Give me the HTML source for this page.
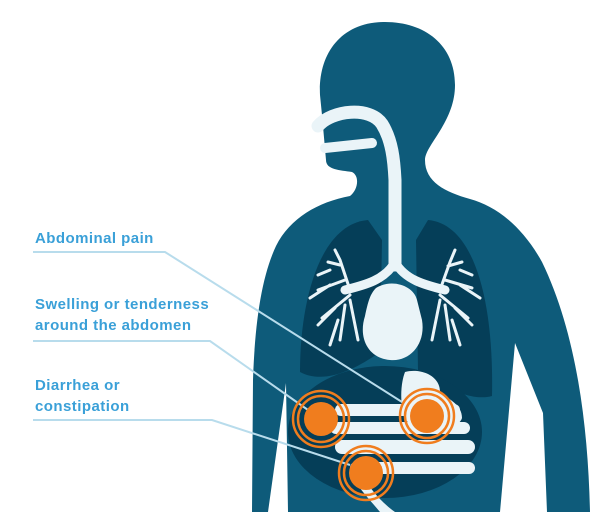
<!DOCTYPE html>
<html><head><style>
html,body{margin:0;padding:0;background:#fff;}
svg{display:block;}
text{font-family:"Liberation Sans",sans-serif;font-weight:bold;font-size:15px;letter-spacing:0.45px;fill:#3aa0d8;}
</style></head><body>
<svg width="606" height="512" viewBox="0 0 606 512" xmlns="http://www.w3.org/2000/svg">
<path fill="#0e5b7a" d="M385,22 C340,22 318,55 320,95 L322,115 L326,160 C326,170 340,170 352,172 C360,176 358,190 350,196 C318,202 290,218 276,246 C262,276 255,320 253,380 L252,512 L268,512 L286,383 L288,512 L500,512 L515,343 L543,413 L547,512 L590,512 C588,420 575,330 542,262 C522,226 496,206 470,199 C445,192 425,182 425,160 C425,145 455,122 455,85 C455,45 425,22 385,22 Z"/>
<path fill="#053e58" d="M368,220 C320,224 300,300 300,372 C322,384 352,372 380,352 L382,240 Z"/>
<path fill="#053e58" d="M428,220 C474,224 494,300 492,396 C470,402 442,386 418,370 L416,240 Z"/>
<ellipse cx="385" cy="432" rx="97" ry="66" fill="#053e58"/>
<g fill="none" stroke="#eaf4f8" stroke-linecap="round">
<path d="M318,126 C332,110 370,106 382,124 C392,140 394,160 395,180 L395,265" stroke-width="13"/>
<path d="M325,148 L372,143" stroke-width="10"/>
<path d="M395,262 C385,280 365,285 345,290" stroke-width="9"/>
<path d="M395,262 C405,280 425,285 445,290" stroke-width="9"/>
</g>
<g fill="none" stroke="#eaf4f8" stroke-width="3" stroke-linecap="round">
<path d="M350,290 L340,260 L335,250 M340,265 L328,262 M345,280 L318,290 M330,285 L310,298 M350,295 L322,318 M335,308 L318,325 M345,305 L340,340 M338,320 L330,345 M350,300 L358,340 M330,270 L318,275"/>
<path d="M440,290 L450,262 L455,250 M448,266 L462,262 M445,280 L472,288 M460,285 L480,298 M440,295 L468,318 M455,308 L472,325 M445,305 L450,340 M452,320 L460,345 M440,300 L432,340 M460,270 L472,275"/>
</g>
<path fill="#eaf4f8" d="M376,288 C392,278 414,286 417,300 L422,320 C426,344 410,362 390,360 C368,358 358,338 365,316 C368,302 370,294 376,288 Z"/>
<g fill="#eaf4f8">
<path d="M405,372 C420,368 440,375 440,392 C450,400 462,405 462,418 C458,432 420,432 405,420 C400,405 400,385 405,372 Z"/>
<rect x="335" y="404" width="125" height="12" rx="6"/>
<rect x="330" y="422" width="140" height="12" rx="6"/>
<rect x="335" y="440" width="140" height="14" rx="7"/>
<rect x="350" y="462" width="125" height="12" rx="6"/>
<path d="M365,480 C375,495 385,505 395,512 L380,512 C370,500 360,490 355,480 Z"/>
</g>
<g fill="none" stroke="#b8dcec" stroke-width="2">
<path d="M33,252 L165,252 L402,402"/>
<path d="M33,341 L210,341 L308,410"/>
<path d="M33,420 L212,420 L350,465"/>
</g>
<g>
<circle cx="321" cy="419" r="28" fill="none" stroke="#f07d1e" stroke-width="2.5"/>
<circle cx="321" cy="419" r="23" fill="none" stroke="#f07d1e" stroke-width="2.5"/>
<circle cx="321" cy="419" r="17" fill="#f07d1e"/>
<circle cx="427" cy="416" r="27" fill="none" stroke="#f07d1e" stroke-width="2.5"/>
<circle cx="427" cy="416" r="22" fill="none" stroke="#f07d1e" stroke-width="2.5"/>
<circle cx="427" cy="416" r="17" fill="#f07d1e"/>
<circle cx="366" cy="473" r="27" fill="none" stroke="#f07d1e" stroke-width="2.5"/>
<circle cx="366" cy="473" r="22" fill="none" stroke="#f07d1e" stroke-width="2.5"/>
<circle cx="366" cy="473" r="17" fill="#f07d1e"/>
</g>
<text x="35" y="243">Abdominal pain</text>
<text x="35" y="309">Swelling or tenderness</text>
<text x="35" y="330">around the abdomen</text>
<text x="35" y="390">Diarrhea or</text>
<text x="35" y="411">constipation</text>
</svg>
</body></html>
